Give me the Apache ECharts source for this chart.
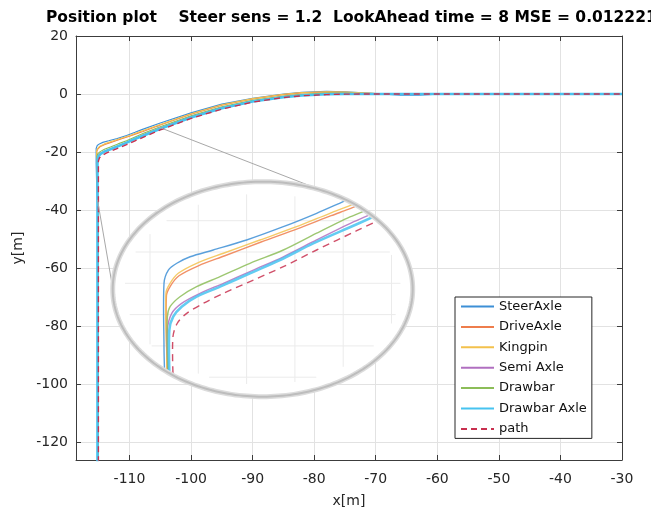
<!DOCTYPE html>
<html>
<head>
<meta charset="utf-8">
<script src="https://cdn.jsdelivr.net/npm/echarts@6/dist/echarts.min.js"></script>
<style>
  html, body { margin: 0; padding: 0; background: #fff; }
  #chart { width: 651px; height: 513px; }
</style>
</head>
<body>
<div id="chart"></div>
<script>
// ---- data ----
const TITLE = 'Position plot    Steer sens = 1.2  LookAhead time = 8 MSE = 0.012221';
const X_TICKS = [-110, -100, -90, -80, -70, -60, -50, -40, -30];
const Y_TICKS = [-120, -100, -80, -60, -40, -20, 0, 20];
const X_RANGE = [-118.69, -30];
const Y_RANGE = [-126.2, 20];
const SERIES_NAMES = ['SteerAxle', 'DriveAxle', 'Kingpin', 'Semi Axle', 'Drawbar', 'Drawbar Axle', 'path'];

const steerAxle = [[-115.1,-127],[-115.1,-50],[-115.2,-38],[-115.35,-30],[-115.42,-24],[-115.42,-18.8],[-115.24,-17.74],[-114.89,-17.2],[-114.34,-16.68],[-113.38,-16.14],[-112.0,-15.34],[-110.48,-14.28],[-109.1,-13.21],[-108.0,-12.28],[-105,-10.0],[-100,-6.5],[-95,-3.5],[-90,-1.5],[-85,0.0],[-82,0.6],[-78,0.9],[-75,0.8],[-72,0.4],[-69,0.0],[-66,-0.4],[-63,-0.4],[-60,-0.1],[-56,0],[-30,0]];
const driveAxle = [[-115.1,-127],[-115.1,-45],[-115.2,-34],[-115.3,-25],[-115.32,-19.8],[-115.15,-19.0],[-114.8,-18.2],[-114.0,-17.4],[-112.9,-16.6],[-111.4,-15.5],[-109.9,-14.45],[-108.5,-13.4],[-107.8,-12.9],[-105,-10.7],[-100,-7.0],[-95,-3.9],[-90,-1.7],[-85,-0.2],[-82,0.4],[-78,0.7],[-75,0.6],[-72,0.3],[-69,0.05],[-66,0],[-30,0]];
const kingpin = [[-115.1,-127],[-115.1,-45],[-115.2,-34],[-115.3,-25],[-115.34,-19.57],[-115.17,-18.8],[-114.83,-18.0],[-114.07,-17.2],[-112.96,-16.4],[-111.45,-15.34],[-109.93,-14.28],[-108.55,-13.21],[-107.86,-12.7],[-105,-10.5],[-100,-6.8],[-95,-3.7],[-90,-1.6],[-85,-0.1],[-82,0.5],[-78,0.8],[-75,0.7],[-72,0.4],[-69,0.1],[-66,0],[-30,0]];
const semiAxle = [[-115.1,-127],[-115.1,-40],[-115.2,-30],[-115.28,-22.53],[-115.1,-21.2],[-114.69,-20.4],[-113.93,-19.6],[-112.96,-18.8],[-111.72,-17.74],[-110.48,-16.68],[-109.1,-15.34],[-107.58,-13.9],[-105,-11.7],[-100,-7.8],[-95,-4.7],[-90,-2.4],[-85,-0.9],[-82,-0.3],[-78,0.1],[-75,0.1],[-71,0],[-30,0]];
const drawbar = [[-115.1,-127],[-115.1,-42],[-115.2,-32],[-115.28,-24],[-115.28,-21.47],[-115.17,-20.67],[-114.76,-19.87],[-114.07,-19.07],[-113.1,-18.27],[-111.86,-17.2],[-110.48,-16.14],[-109.1,-14.8],[-107.72,-13.5],[-105,-11.3],[-100,-7.5],[-95,-4.4],[-90,-2.2],[-85,-0.7],[-82,-0.1],[-78,0.3],[-75,0.3],[-72,0.1],[-68,0],[-30,0]];
const drawbarAxle = [[-115.2,-127],[-115.2,-22.53],[-115.04,-21.47],[-114.69,-20.67],[-114.07,-19.87],[-113.1,-19.07],[-111.86,-18.0],[-110.62,-16.94],[-109.24,-15.61],[-107.58,-14.2],[-105,-12.0],[-100,-8.1],[-95,-4.9],[-90,-2.6],[-85,-1.1],[-82,-0.5],[-78,-0.1],[-75,0],[-30,0]];
const pathRef = [[-115.05,-127],[-115.05,-23.07],[-114.87,-21.99],[-114.48,-21.2],[-113.79,-20.4],[-112.96,-19.6],[-111.72,-18.54],[-110.48,-17.47],[-109.1,-16.14],[-107.44,-14.6],[-105,-12.4],[-100,-8.4],[-95,-5.2],[-90,-2.8],[-85,-1.2],[-82,-0.6],[-78,-0.2],[-75,-0.05],[-72,0],[-30,0]];

// magnified window (axis limits of the lens)
const INSET_X_RANGE = [-117.545, -105.122];
const INSET_Y_RANGE = [-27.857, -10.685];
const INSET_GRID_X = [-116, -114, -112, -110, -108, -106];
const INSET_GRID_Y = [-13.8, -16.3, -18.8, -21.3, -23.8, -26.3];

// ---- styles ----
const FONT = "'DejaVu Sans', Verdana, sans-serif";
const LINES = [
  { data: steerAxle,   color: '#3d8fd6', width: 1.1 },
  { data: driveAxle,   color: '#ee7d4c', width: 1.1 },
  { data: kingpin,     color: '#f3c14c', width: 1.1 },
  { data: semiAxle,    color: '#b06fc0', width: 1.1 },
  { data: drawbar,     color: '#8cbd58', width: 1.1 },
  { data: drawbarAxle, color: '#47c3f0', width: 2.6, thick: true },
  { data: pathRef,     color: '#c8304f', width: 1.4, dash: [6, 4] }
];
// lens geometry on the page and the anchors of its two leader lines
const LENS = { left: 112.7, top: 181.7, width: 300, height: 215 };
const LEADERS = [
  { main: [-105.53, -11.18], lens: [-109.25, -11.11] },
  { main: [-115.2, -36.5],   lens: [-117.53, -19.34] }
];

const chart = echarts.init(document.getElementById('chart'), null, { renderer: 'canvas' });

function lensEllipse(cs, shrink) {
  return { cx: cs.x + cs.width / 2, cy: cs.y + cs.height / 2,
           rx: cs.width / 2 - shrink, ry: cs.height / 2 - shrink };
}
function ellipsePoints(e, n) {
  const pts = [];
  for (let i = 0; i < n; i++) {
    const t = (i / n) * Math.PI * 2;
    pts.push([e.cx + e.rx * Math.cos(t), e.cy + e.ry * Math.sin(t)]);
  }
  return pts;
}
// keep only the parts of a polyline that lie inside an ellipse
function clipToEllipse(pts, e) {
  const parts = []; let cur = null;
  for (let i = 0; i < pts.length - 1; i++) {
    const p = pts[i], q = pts[i + 1];
    const ex = (p[0] - e.cx) / e.rx, ey = (p[1] - e.cy) / e.ry;
    const dx = (q[0] - p[0]) / e.rx, dy = (q[1] - p[1]) / e.ry;
    const A = dx * dx + dy * dy, B = 2 * (ex * dx + ey * dy), C = ex * ex + ey * ey - 1;
    let a = 1, b = 0;
    if (A > 0) {
      const D = B * B - 4 * A * C;
      if (D > 0) {
        const s = Math.sqrt(D);
        a = Math.max(0, (-B - s) / (2 * A));
        b = Math.min(1, (-B + s) / (2 * A));
      }
    }
    if (a >= b) { if (cur) { parts.push(cur); cur = null; } continue; }
    const P = [p[0] + (q[0] - p[0]) * a, p[1] + (q[1] - p[1]) * a];
    const Q = [p[0] + (q[0] - p[0]) * b, p[1] + (q[1] - p[1]) * b];
    if (!cur) cur = [P];
    cur.push(Q);
    if (b < 1) { parts.push(cur); cur = null; }
  }
  if (cur) parts.push(cur);
  return parts;
}

const mainSeries = LINES.map((l, i) => ({
  name: SERIES_NAMES[i],
  type: 'line',
  xAxisIndex: 0, yAxisIndex: 0,
  data: l.data,
  showSymbol: false, symbol: 'none',
  lineStyle: { color: l.color, width: l.width, type: l.dash ? l.dash : 'solid' },
  itemStyle: { color: l.color },
  z: 2, silent: true, animation: false, clip: true
}));

// lens background + its faint grid
const lensBack = {
  type: 'custom', xAxisIndex: 2, yAxisIndex: 2, z: 5, silent: true, clip: false,
  data: [[INSET_X_RANGE[0], INSET_Y_RANGE[0]]],
  renderItem(params, api) {
    const cs = params.coordSys;
    const e = lensEllipse(cs, 0);
    const inner = lensEllipse(cs, 12);
    const children = [{ type: 'polygon', shape: { points: ellipsePoints(e, 180) }, style: { fill: '#ffffff', stroke: null } }];
    INSET_GRID_X.forEach(v => {
      const seg = [api.coord([v, INSET_Y_RANGE[0]]), api.coord([v, INSET_Y_RANGE[1]])];
      clipToEllipse(seg, inner).forEach(p => children.push({ type: 'polyline', shape: { points: p }, style: { stroke: '#ebebeb', lineWidth: 1, fill: null } }));
    });
    INSET_GRID_Y.forEach(v => {
      const seg = [api.coord([INSET_X_RANGE[0], v]), api.coord([INSET_X_RANGE[1], v])];
      clipToEllipse(seg, inner).forEach(p => children.push({ type: 'polyline', shape: { points: p }, style: { stroke: '#ebebeb', lineWidth: 1, fill: null } }));
    });
    return { type: 'group', children };
  }
};

// magnified copies of the trajectories
const lensLines = {
  type: 'custom', xAxisIndex: 2, yAxisIndex: 2, z: 6, silent: true, clip: false,
  data: LINES.map(() => [INSET_X_RANGE[0], INSET_Y_RANGE[0]]),
  renderItem(params, api) {
    const l = LINES[params.dataIndex];
    const e = lensEllipse(params.coordSys, 2);
    const pts = l.data.map(p => api.coord(p));
    const children = clipToEllipse(pts, e).map(part => ({
      type: 'polyline',
      shape: { points: part, smooth: 0.3 },
      style: { stroke: l.color, lineWidth: l.thick ? 2.6 : 1.4, fill: null, lineDash: l.dash ? [7, 5] : null, opacity: 0.85 }
    }));
    return { type: 'group', children };
  }
};

// lens rim
const lensRim = {
  type: 'custom', xAxisIndex: 2, yAxisIndex: 2, z: 7, silent: true, clip: false,
  data: [[INSET_X_RANGE[0], INSET_Y_RANGE[0]]],
  renderItem(params) {
    const e = lensEllipse(params.coordSys, 0);
    const pts = ellipsePoints(e, 240);
    return { type: 'group', children: [
      { type: 'polygon', shape: { points: pts }, style: { fill: null, stroke: '#dcdcdc', lineWidth: 5 } },
      { type: 'polygon', shape: { points: pts }, style: { fill: null, stroke: '#bdbdbd', lineWidth: 2 } }
    ] };
  }
};

const axisLineStyle = { color: '#3c3c3c', width: 1 };
const option = {
  animation: false,
  backgroundColor: '#ffffff',
  title: {
    text: TITLE, left: 41, top: 5,
    textStyle: { fontFamily: FONT, fontSize: 15.5, fontWeight: 'bold', color: '#000' }
  },
  grid: [
    { left: 76, right: 29, top: 36, bottom: 52 },
    { left: LENS.left, top: LENS.top, width: LENS.width, height: LENS.height }
  ],
  legend: {
    data: SERIES_NAMES, orient: 'vertical', left: 455, top: 297,
    itemWidth: 33, itemHeight: 14, itemGap: 7.4,
    padding: [3, 5, 3, 5],
    borderColor: '#262626', borderWidth: 1, backgroundColor: '#ffffff',
    selectedMode: false, z: 20,
    itemStyle: { opacity: 0 },
    textStyle: { fontFamily: FONT, fontSize: 13, color: '#111' }
  },
  xAxis: [
    {
      type: 'value', gridIndex: 0, min: X_RANGE[0], max: X_RANGE[1], position: 'bottom',
      name: 'x[m]', nameLocation: 'middle', nameGap: 34,
      nameTextStyle: { fontFamily: FONT, fontSize: 14, color: '#262626' },
      axisLine: { show: true, onZero: false, lineStyle: axisLineStyle },
      axisTick: { show: true, inside: true, length: 5, customValues: X_TICKS, lineStyle: axisLineStyle },
      axisLabel: { customValues: X_TICKS, fontFamily: FONT, fontSize: 14, color: '#262626', margin: 12 },
      splitLine: { show: true, lineStyle: { color: '#e2e2e2', width: 1 } }
    },
    {
      type: 'value', gridIndex: 0, min: X_RANGE[0], max: X_RANGE[1], position: 'top',
      axisLine: { show: true, onZero: false, lineStyle: axisLineStyle },
      axisTick: { show: true, inside: true, length: 5, customValues: X_TICKS, lineStyle: axisLineStyle },
      axisLabel: { show: false }, splitLine: { show: false }
    },
    { type: 'value', gridIndex: 1, min: INSET_X_RANGE[0], max: INSET_X_RANGE[1], show: false, splitLine: { show: false } }
  ],
  yAxis: [
    {
      type: 'value', gridIndex: 0, min: Y_RANGE[0], max: Y_RANGE[1], position: 'left',
      name: 'y[m]', nameLocation: 'middle', nameGap: 38, nameRotate: 90,
      nameTextStyle: { fontFamily: FONT, fontSize: 14, color: '#262626' },
      axisLine: { show: true, onZero: false, lineStyle: axisLineStyle },
      axisTick: { show: true, inside: true, length: 5, customValues: Y_TICKS, lineStyle: axisLineStyle },
      axisLabel: { customValues: Y_TICKS, fontFamily: FONT, fontSize: 14, color: '#262626', margin: 8 },
      splitLine: { show: true, lineStyle: { color: '#e2e2e2', width: 1 } }
    },
    {
      type: 'value', gridIndex: 0, min: Y_RANGE[0], max: Y_RANGE[1], position: 'right',
      axisLine: { show: true, onZero: false, lineStyle: axisLineStyle },
      axisTick: { show: true, inside: true, length: 5, customValues: Y_TICKS, lineStyle: axisLineStyle },
      axisLabel: { show: false }, splitLine: { show: false }
    },
    { type: 'value', gridIndex: 1, min: INSET_Y_RANGE[0], max: INSET_Y_RANGE[1], show: false, splitLine: { show: false } }
  ],
  series: mainSeries.concat([lensBack, lensLines, lensRim])
};
chart.setOption(option);

// leader lines from the magnified region to the lens
const leaderGraphics = LEADERS.map(ld => {
  const a = chart.convertToPixel({ xAxisIndex: 0, yAxisIndex: 0 }, ld.main);
  const b = chart.convertToPixel({ xAxisIndex: 2, yAxisIndex: 2 }, ld.lens);
  return { type: 'line', z: 3, silent: true,
           shape: { x1: a[0], y1: a[1], x2: b[0], y2: b[1] },
           style: { stroke: '#a8a8a8', lineWidth: 1 } };
});
chart.setOption({ graphic: leaderGraphics });
</script>
</body>
</html>
